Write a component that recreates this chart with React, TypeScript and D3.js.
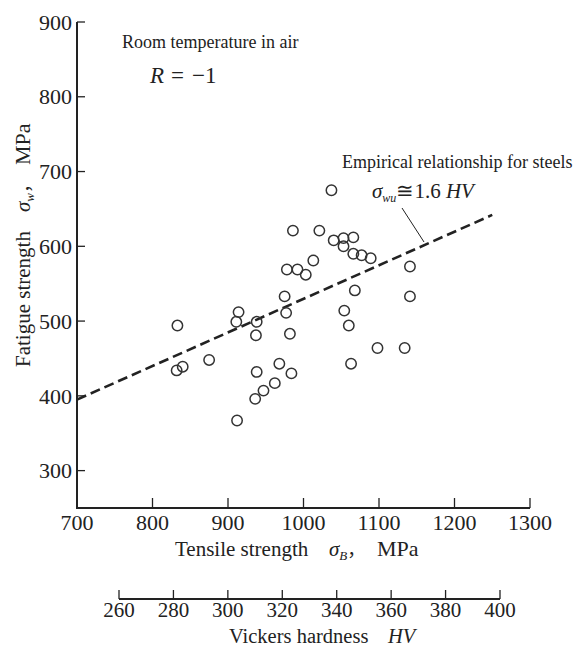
import React from "react";
import * as d3 from "d3";

const tensile = [833, 832, 840, 875, 912, 911, 914, 938, 937, 938, 936, 947, 962, 968, 984, 975, 977, 982, 978, 992, 1003, 986, 1021, 1013, 1037, 1040, 1053, 1066, 1053, 1066, 1077, 1089, 1068, 1054, 1060, 1063, 1098, 1134, 1141, 1141];
const fatigue = [494, 434, 439, 448, 367, 499, 512, 499, 481, 432, 396, 407, 417, 443, 430, 533, 511, 483, 569, 569, 562, 621, 621, 581, 675, 608, 611, 612, 600, 590, 588, 584, 541, 514, 494, 443, 464, 464, 573, 533];

const lineTensile = [700, 1250];
const lineFatigue = [395, 642];

const xTicks = [700, 800, 900, 1000, 1100, 1200, 1300];
const yTicks = [300, 400, 500, 600, 700, 800, 900];
const hvTicks = [260, 280, 300, 320, 340, 360, 380, 400];

const FONT = "'Liberation Serif', 'DejaVu Serif', serif";
const CJK = "'Noto Sans CJK SC', sans-serif";
const INK = "#222";

export default function App() {
  const x = d3.scaleLinear().domain([700, 1300]).range([77, 530]);
  const y = d3.scaleLinear().domain([250, 900]).range([508, 22]);
  const hv = d3.scaleLinear().domain([260, 400]).range([119, 500]);
  const hvY = 599;

  const lineGen = d3
    .line<number>()
    .x((_, i) => x(lineTensile[i]))
    .y((d) => y(d));

  return (
    <svg
      width={579}
      height={648}
      style={{ position: "absolute", left: 0, top: 0, background: "#fff" }}
      fontFamily={FONT}
    >
      <rect width={579} height={648} fill="#fff" />
      {/* Y axis */}
      <line x1={x(700)} x2={x(700)} y1={y(900)} y2={y(250)} stroke={INK} strokeWidth={2} />
      {yTicks.map((t) => (
        <g key={"y" + t}>
          <line x1={x(700)} x2={x(700) + 8} y1={y(t)} y2={y(t)} stroke={INK} strokeWidth={1.3} />
          <text x={x(700) - 5} y={y(t)} dy="0.35em" textAnchor="end" fontSize={22} fill={INK}>
            {t}
          </text>
        </g>
      ))}
      {/* X axis */}
      <line x1={x(700) - 1} x2={x(1300)} y1={y(250)} y2={y(250)} stroke={INK} strokeWidth={2} />
      {xTicks.map((t) => (
        <g key={"x" + t}>
          {t > 700 && (
            <line x1={x(t)} x2={x(t)} y1={y(250)} y2={y(250) - 10} stroke={INK} strokeWidth={1.3} />
          )}
          <text x={x(t)} y={530} textAnchor="middle" fontSize={22} fill={INK}>
            {t}
          </text>
        </g>
      ))}
      <text x={175} y={556} fontSize={21} fill={INK}>
        <tspan>Tensile strength</tspan>
        <tspan x={329} fontStyle="italic">σ</tspan>
        <tspan fontStyle="italic" fontSize={13} dy={4}>B</tspan>
        <tspan dy={-4} fontFamily={CJK} fontSize={18}>，</tspan>
        <tspan x={377} fontSize={22}>MPa</tspan>
      </text>

      {/* Y title */}
      <text transform={`translate(30,367) rotate(-90)`} fontSize={21} fill={INK}>
        <tspan>Fatigue strength</tspan>
        <tspan x={155} fontStyle="italic">σ</tspan>
        <tspan fontStyle="italic" fontSize={13} dy={4}>w</tspan>
        <tspan dy={-4} fontFamily={CJK} fontSize={18}>，</tspan>
        <tspan x={202} fontSize={22}>MPa</tspan>
      </text>

      {/* HV axis */}
      <line x1={hv(260)} x2={hv(400)} y1={hvY} y2={hvY} stroke={INK} strokeWidth={2} />
      {hvTicks.map((t) => (
        <g key={"h" + t}>
          <line x1={hv(t)} x2={hv(t)} y1={hvY} y2={hvY - 9} stroke={INK} strokeWidth={1.3} />
          <text x={hv(t)} y={617} textAnchor="middle" fontSize={21} fill={INK}>
            {t}
          </text>
        </g>
      ))}
      <text x={229} y={643} fontSize={20.5} fill={INK}>
        <tspan>Vickers hardness</tspan>
        <tspan x={388} fontStyle="italic">HV</tspan>
      </text>

      {/* Dashed empirical line */}
      <path
        d={lineGen(lineFatigue) || ""}
        fill="none"
        stroke={INK}
        strokeWidth={2.6}
        strokeDasharray="10,5"
      />

      {/* Points */}
      {tensile.map((t, i) => (
        <circle
          key={"p" + i}
          cx={x(t)}
          cy={y(fatigue[i])}
          r={5.2}
          fill="none"
          stroke="#333"
          strokeWidth={1.5}
        />
      ))}

      {/* Annotations */}
      <text x={122} y={48} fontSize={18} fill={INK}>
        Room temperature in air
      </text>
      <text x={150} y={83} fontSize={23} fill={INK}>
        <tspan fontStyle="italic">R</tspan>
        <tspan x={171}>=</tspan>
        <tspan x={192}>−1</tspan>
      </text>
      <text x={342} y={168} fontSize={18} fill={INK}>
        Empirical relationship for steels
      </text>
      <text x={372} y={198} fontSize={21} fill={INK}>
        <tspan fontStyle="italic">σ</tspan>
        <tspan fontStyle="italic" fontSize={12} dy={4}>wu</tspan>
        <tspan dy={-4}>≅1.6</tspan>
        <tspan fontStyle="italic"> HV</tspan>
      </text>
      <line x1={402} y1={208} x2={424} y2={242} stroke={INK} strokeWidth={1} />
    </svg>
  );
}
